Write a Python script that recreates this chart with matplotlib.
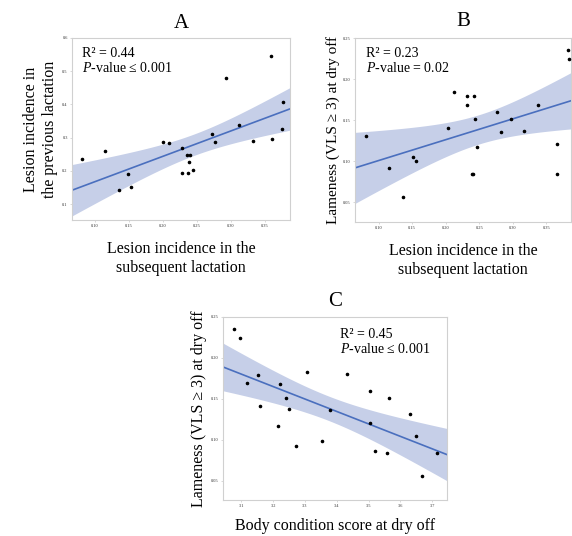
import numpy as np
import matplotlib
matplotlib.use("Agg")
import matplotlib.pyplot as plt

plt.rcParams['font.family'] = ['Liberation Serif', 'DejaVu Serif']
plt.rcParams['mathtext.fontset'] = 'custom'
plt.rcParams['mathtext.rm'] = 'Liberation Serif'
plt.rcParams['mathtext.it'] = 'Liberation Serif:italic'

# panel A: lesion incidence subsequent (x) vs previous (y)
a_x = [0.081, 0.115, 0.135, 0.149, 0.154, 0.200, 0.209, 0.228, 0.228, 0.235, 0.237,
       0.238, 0.240, 0.244, 0.272, 0.277, 0.292, 0.312, 0.333, 0.359, 0.360, 0.375, 0.377]
a_y = [0.236, 0.261, 0.141, 0.191, 0.150, 0.287, 0.283, 0.268, 0.193, 0.249, 0.193,
       0.226, 0.248, 0.202, 0.311, 0.286, 0.479, 0.338, 0.291, 0.547, 0.295, 0.325, 0.406]

# panel B: lesion incidence subsequent (x) vs lameness at dry off (y)
b_x = [0.081, 0.116, 0.137, 0.151, 0.156, 0.203, 0.212, 0.231, 0.232, 0.239, 0.240,
       0.242, 0.244, 0.247, 0.277, 0.282, 0.297, 0.317, 0.338, 0.366, 0.366, 0.382, 0.383]
b_y = [0.131, 0.092, 0.056, 0.105, 0.100, 0.141, 0.184, 0.180, 0.169, 0.084, 0.085,
       0.179, 0.151, 0.117, 0.160, 0.136, 0.152, 0.137, 0.169, 0.121, 0.084, 0.235, 0.224]

# panel C: body condition score (x) vs lameness at dry off (y)
c_x = [3.076, 3.096, 3.117, 3.151, 3.160, 3.216, 3.220, 3.239, 3.250, 3.273, 3.305,
       3.354, 3.378, 3.433, 3.504, 3.504, 3.520, 3.559, 3.566, 3.630, 3.649, 3.668, 3.714]
c_y = [0.235, 0.224, 0.169, 0.179, 0.141, 0.117, 0.168, 0.151, 0.137, 0.092, 0.183,
       0.099, 0.136, 0.180, 0.159, 0.121, 0.086, 0.084, 0.151, 0.131, 0.105, 0.056, 0.084]

line_col = '#4a6fbe'
band_col = '#c6cfe8'


def reg_panel(ax, x, y, xlim, ylim, xticks, yticks, xfmt, yfmt):
    x = np.array(x)
    y = np.array(y)
    n = len(x)
    b1, b0 = np.polyfit(x, y, 1)
    xs = np.linspace(xlim[0], xlim[1], 100)
    ys = b0 + b1 * xs
    resid = y - (b0 + b1 * x)
    s = np.sqrt(np.sum(resid ** 2) / (n - 2))
    se = s * np.sqrt(1.0 / n + (xs - x.mean()) ** 2 / np.sum((x - x.mean()) ** 2))
    t = 2.08
    ax.fill_between(xs, ys - t * se, ys + t * se, color=band_col, lw=0)
    ax.plot(xs, ys, color=line_col, lw=1.2)
    ax.scatter(x, y, s=2.5, color='black', zorder=3)
    ax.set_xlim(xlim)
    ax.set_ylim(ylim)
    ax.set_xticks(xticks)
    ax.set_yticks(yticks)
    ax.set_xticklabels([xfmt % v for v in xticks])
    ax.set_yticklabels([yfmt % v for v in yticks])
    ax.tick_params(labelsize=3.2, length=1.5, width=0.4, colors='#bbbbbb',
                   labelcolor='#333333', pad=1.5)
    for sp in ax.spines.values():
        sp.set_color('#d0d0d0')
        sp.set_linewidth(0.8)


fig = plt.figure(figsize=(5.72, 5.36), dpi=100)

axA = fig.add_axes([0.1259, 0.5896, 0.3811, 0.3396])
reg_panel(axA, a_x, a_y, (0.0668, 0.3866), (0.052, 0.6),
          [0.10, 0.15, 0.20, 0.25, 0.30, 0.35], [0.1, 0.2, 0.3, 0.4, 0.5, 0.6], '%.2f', '%.1f')
axA.set_title('A', fontsize=15, pad=7)
axA.set_xlabel('Lesion incidence in the\nsubsequent lactation', fontsize=11.5, labelpad=9,
               linespacing=1.25)
axA.set_ylabel('Lesion incidence in\nthe previous lactation', fontsize=11.5, labelpad=3,
               linespacing=1.25)
axA.text(0.045, 0.95, 'R² = 0.44\n$P$-value ≤ 0.001', transform=axA.transAxes,
         fontsize=10, va='top', ha='left', linespacing=1.05)

axB = fig.add_axes([0.6206, 0.5858, 0.3776, 0.3433])
reg_panel(axB, b_x, b_y, (0.0649, 0.3866), (0.026, 0.25),
          [0.10, 0.15, 0.20, 0.25, 0.30, 0.35], [0.05, 0.10, 0.15, 0.20, 0.25], '%.2f', '%.2f')
axB.set_title('B', fontsize=15, pad=9)
axB.set_xlabel('Lesion incidence in the\nsubsequent lactation', fontsize=11.5, labelpad=9,
               linespacing=1.25)
axB.set_ylabel('Lameness (VLS ≥ 3) at dry off', fontsize=11, labelpad=2)
axB.text(0.05, 0.95, 'R² = 0.23\n$P$-value = 0.02', transform=axB.transAxes,
         fontsize=10, va='top', ha='left', linespacing=1.05)

axC = fig.add_axes([0.3899, 0.0672, 0.3916, 0.3414])
reg_panel(axC, c_x, c_y, (3.0423, 3.747), (0.0263, 0.25),
          [3.1, 3.2, 3.3, 3.4, 3.5, 3.6, 3.7], [0.05, 0.10, 0.15, 0.20, 0.25], '%.1f', '%.2f')
axC.set_title('C', fontsize=15, pad=8)
axC.set_xlabel('Body condition score at dry off', fontsize=11.5, labelpad=7)
axC.set_ylabel('Lameness (VLS ≥ 3) at dry off', fontsize=11.5, labelpad=3)
axC.text(0.52, 0.94, 'R² = 0.45\n$P$-value ≤ 0.001', transform=axC.transAxes,
         fontsize=10, va='top', ha='left', linespacing=1.05)

fig.savefig('out.png', dpi=100)
